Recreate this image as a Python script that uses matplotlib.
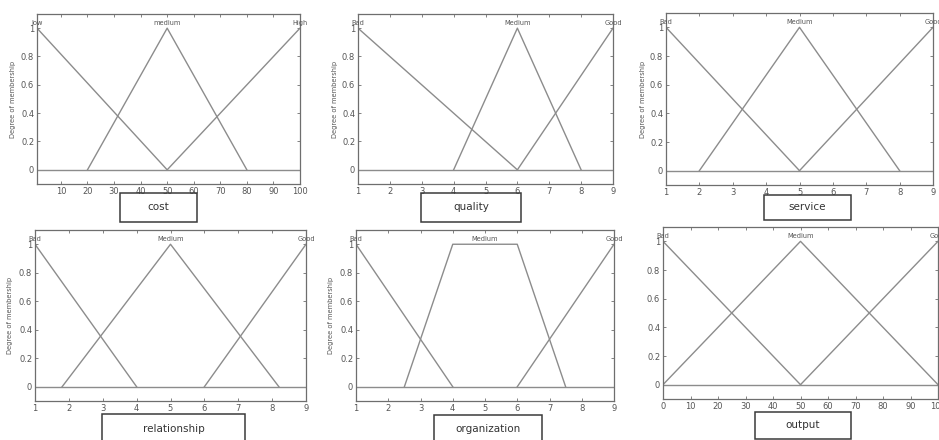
import matplotlib
matplotlib.use("Agg")
import matplotlib.pyplot as plt
import numpy as np
from matplotlib.patches import Rectangle

W, H = 939, 440

# membership functions for each fuzzy variable
cost_range = (1, 100)
cost_ticks = [10, 20, 30, 40, 50, 60, 70, 80, 90, 100]
cost_names = ["low", "medium", "High"]
cost_x = [[1, 50], [20, 50, 80], [50, 100]]
cost_y = [[1, 0], [0, 1, 0], [0, 1]]

quality_range = (1, 9)
quality_ticks = [1, 2, 3, 4, 5, 6, 7, 8, 9]
quality_names = ["Bad", "Medium", "Good"]
quality_x = [[1, 6], [4, 6, 8], [6, 9]]
quality_y = [[1, 0], [0, 1, 0], [0, 1]]

service_range = (1, 9)
service_ticks = [1, 2, 3, 4, 5, 6, 7, 8, 9]
service_names = ["Bad", "Medium", "Good"]
service_x = [[1, 5], [2, 5, 8], [5, 9]]
service_y = [[1, 0], [0, 1, 0], [0, 1]]

relationship_range = (1, 9)
relationship_ticks = [1, 2, 3, 4, 5, 6, 7, 8, 9]
relationship_names = ["Bad", "Medium", "Good"]
relationship_x = [[1, 4], [1.8, 5, 8.2], [6, 9]]
relationship_y = [[1, 0], [0, 1, 0], [0, 1]]

organization_range = (1, 9)
organization_ticks = [1, 2, 3, 4, 5, 6, 7, 8, 9]
organization_names = ["Bad", "Medium", "Good"]
organization_x = [[1, 4], [2.5, 4, 6, 7.5], [6, 9]]
organization_y = [[1, 0], [0, 1, 1, 0], [0, 1]]

output_range = (0, 100)
output_ticks = [0, 10, 20, 30, 40, 50, 60, 70, 80, 90, 100]
output_names = ["Bad", "Medium", "Good"]
output_x = [[0, 50], [0, 50, 100], [50, 100]]
output_y = [[1, 0], [0, 1, 0], [0, 1]]

LINE = "#8c8c8c"
FRAME = "#6e6e6e"
TEXT = "#555555"


def fx(px):
    return px / W


def fy(py):
    return 1 - py / H


def draw_panel(fig, box, label_box, ylabel_x, title, xr, ticks, names, xs, ys):
    left, top, right, bottom = box
    ax = fig.add_axes([fx(left), fy(bottom), fx(right - left), (bottom - top) / H])
    for x, y in zip(xs, ys):
        ax.plot(x, y, color=LINE, lw=1.0)
        peak = [xi for xi, yi in zip(x, y) if yi == 1]
        ax.text(np.mean(peak), 1.015, names[xs.index(x)], ha="center", va="bottom",
                fontsize=4.8, color=TEXT, clip_on=False)
    ax.axhline(0, color=LINE, lw=1.0)
    ax.set_xlim(*xr)
    ax.set_ylim(-0.1, 1.1)
    ax.set_xticks(ticks)
    ax.set_xticklabels([str(t) for t in ticks])
    ax.set_yticks([0, 0.2, 0.4, 0.6, 0.8, 1])
    ax.set_yticklabels(["0", "0.2", "0.4", "0.6", "0.8", "1"])
    ax.tick_params(direction="in", length=2.5, width=0.6, colors=FRAME, labelsize=6,
                   labelcolor=TEXT, top=True, right=True, pad=2)
    for s in ax.spines.values():
        s.set_color(FRAME)
        s.set_linewidth(0.9)
    if ylabel_x is not None:
        fig.text(fx(ylabel_x), fy((top + bottom) / 2), "Degree of membership", rotation=90,
                 ha="center", va="center", fontsize=4.8, color=TEXT)
    bl, bt, br, bb = label_box
    fig.patches.append(Rectangle((fx(bl), fy(bb)), fx(br - bl), (bb - bt) / H,
                                 transform=fig.transFigure, fill=False,
                                 edgecolor="#3a3a3a", lw=1.1))
    fig.text(fx((bl + br) / 2), fy((bt + bb) / 2 - 1), title, ha="center", va="center",
             fontsize=7.5, color="#333333")
    return ax


fig = plt.figure(figsize=(W / 100, H / 100), dpi=100)

draw_panel(fig, (37, 14, 300, 184), (120, 193, 197, 222), 13, "cost",
           cost_range, cost_ticks, cost_names, cost_x, cost_y)
draw_panel(fig, (358, 14, 613, 184), (421, 193, 521, 222), 335, "quality",
           quality_range, quality_ticks, quality_names, quality_x, quality_y)
draw_panel(fig, (666, 13, 933, 185), (764, 195, 851, 220), 643, "service",
           service_range, service_ticks, service_names, service_x, service_y)
draw_panel(fig, (35, 230, 306, 401), (102, 414, 245, 445), 10, "relationship",
           relationship_range, relationship_ticks, relationship_names,
           relationship_x, relationship_y)
draw_panel(fig, (356, 230, 614, 401), (434, 415, 542, 445), 331, "organization",
           organization_range, organization_ticks, organization_names,
           organization_x, organization_y)
draw_panel(fig, (663, 227, 938, 399), (755, 412, 851, 439), None, "output",
           output_range, output_ticks, output_names, output_x, output_y)

fig.savefig("out.png", dpi=100)
